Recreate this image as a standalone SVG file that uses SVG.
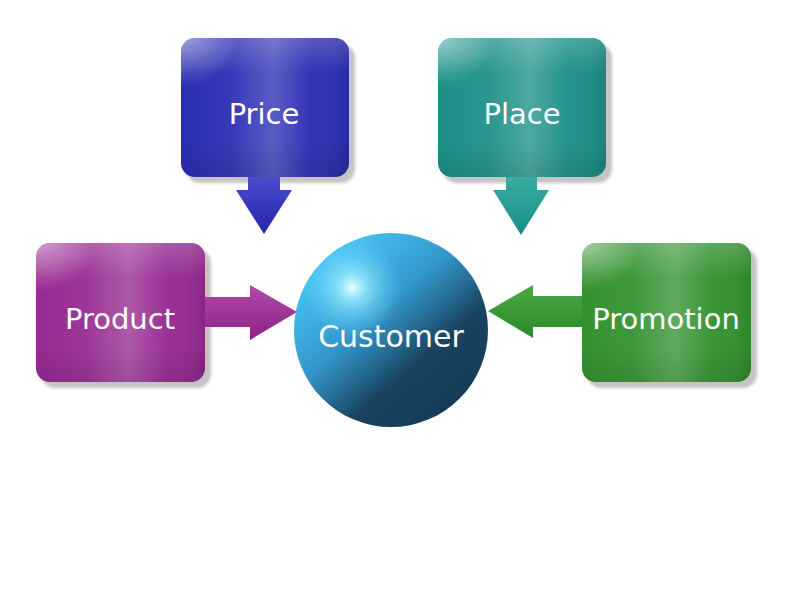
<svg xmlns="http://www.w3.org/2000/svg" width="792" height="615" viewBox="0 0 792 615">
<style>
.lbl{font-family:"DejaVu Sans","Liberation Sans",sans-serif;font-size:29px;fill:#ffffff;text-anchor:middle}
.shadow{fill:#c4c4c4;filter:url(#blur)}
</style>
<defs>
<filter id="blur" x="-10%" y="-10%" width="120%" height="120%"><feGaussianBlur stdDeviation="1.5"/></filter>
<linearGradient id="band" x1="0" y1="0" x2="1" y2="0">
<stop offset="0" stop-color="#fff" stop-opacity="0"/>
<stop offset="0.3" stop-color="#fff" stop-opacity="0.06"/>
<stop offset="0.55" stop-color="#fff" stop-opacity="0.22"/>
<stop offset="0.78" stop-color="#fff" stop-opacity="0.03"/>
<stop offset="1" stop-color="#000" stop-opacity="0.1"/>
</linearGradient>
<linearGradient id="topv" x1="0" y1="0" x2="0" y2="1">
<stop offset="0" stop-color="#fff" stop-opacity="0.18"/>
<stop offset="0.25" stop-color="#fff" stop-opacity="0"/>
<stop offset="0.75" stop-color="#000" stop-opacity="0"/>
<stop offset="1" stop-color="#000" stop-opacity="0.1"/>
</linearGradient>
<radialGradient id="corner" cx="0" cy="0" r="0.35">
<stop offset="0" stop-color="#fff" stop-opacity="0.45"/>
<stop offset="1" stop-color="#fff" stop-opacity="0"/>
</radialGradient>
<linearGradient id="sphere" x1="0.2" y1="0.15" x2="0.85" y2="0.9">
<stop offset="0" stop-color="#45bff0"/>
<stop offset="0.35" stop-color="#3398cc"/>
<stop offset="0.55" stop-color="#24688f"/>
<stop offset="0.68" stop-color="#174460"/>
<stop offset="1" stop-color="#153b56"/>
</linearGradient>
<radialGradient id="hl" cx="0.3" cy="0.28" r="0.26">
<stop offset="0" stop-color="#e8fdff" stop-opacity="1"/>
<stop offset="0.3" stop-color="#9ff0ff" stop-opacity="0.7"/>
<stop offset="1" stop-color="#60d0ff" stop-opacity="0"/>
</radialGradient>
<linearGradient id="gBlueA" x1="0" y1="0" x2="0" y2="1"><stop offset="0" stop-color="#4a4ccc"/><stop offset="1" stop-color="#2525ae"/></linearGradient>
<linearGradient id="gTealA" x1="0" y1="0" x2="0" y2="1"><stop offset="0" stop-color="#3aaca2"/><stop offset="1" stop-color="#178f86"/></linearGradient>
<linearGradient id="gMagA" x1="0" y1="0" x2="0" y2="1"><stop offset="0" stop-color="#b04aa8"/><stop offset="1" stop-color="#8c2386"/></linearGradient>
<linearGradient id="gGrnA" x1="0" y1="0" x2="0" y2="1"><stop offset="0" stop-color="#4aa845"/><stop offset="1" stop-color="#2b8a28"/></linearGradient>
</defs>

<g id="price">
<rect class="shadow" x="186" y="44" width="169" height="139" rx="14"/>
<rect x="181" y="38" width="168" height="139" rx="14" fill="#2b2db3"/>
<rect x="181" y="38" width="168" height="139" rx="14" fill="url(#band)"/>
<rect x="181" y="38" width="168" height="139" rx="14" fill="url(#topv)"/>
<rect x="181" y="38" width="168" height="139" rx="14" fill="url(#corner)"/>
<text class="lbl" x="264" y="124">Price</text>
</g>

<g id="place">
<rect class="shadow" x="443" y="44" width="169" height="139" rx="14"/>
<rect x="438" y="38" width="168" height="139" rx="14" fill="#1c9088"/>
<rect x="438" y="38" width="168" height="139" rx="14" fill="url(#band)"/>
<rect x="438" y="38" width="168" height="139" rx="14" fill="url(#topv)"/>
<rect x="438" y="38" width="168" height="139" rx="14" fill="url(#corner)"/>
<text class="lbl" x="522" y="124">Place</text>
</g>

<g id="product">
<rect class="shadow" x="41" y="249" width="170" height="139" rx="14"/>
<rect x="36" y="243" width="169" height="139" rx="14" fill="#972a92"/>
<rect x="36" y="243" width="169" height="139" rx="14" fill="url(#band)"/>
<rect x="36" y="243" width="169" height="139" rx="14" fill="url(#topv)"/>
<rect x="36" y="243" width="169" height="139" rx="14" fill="url(#corner)"/>
<text class="lbl" x="120" y="329">Product</text>
</g>

<g id="promotion">
<rect class="shadow" x="587" y="249" width="170" height="139" rx="14"/>
<rect x="582" y="243" width="169" height="139" rx="14" fill="#33922f"/>
<rect x="582" y="243" width="169" height="139" rx="14" fill="url(#band)"/>
<rect x="582" y="243" width="169" height="139" rx="14" fill="url(#topv)"/>
<rect x="582" y="243" width="169" height="139" rx="14" fill="url(#corner)"/>
<text class="lbl" x="666" y="329">Promotion</text>
</g>

<g id="connectors">
<polygon fill="url(#gBlueA)" points="248,177 280,177 280,190 292,190 264,234 236,190 248,190"/>
<polygon fill="url(#gTealA)" points="506,177 537,177 537,190 549,190 521,235 493,190 506,190"/>
<polygon fill="url(#gMagA)" points="205,297 250,297 250,285 297,312 250,340 250,327 205,327"/>
<polygon fill="url(#gGrnA)" points="582,296 533,296 533,285 488,311 533,338 533,327 582,327"/>
</g>

<g id="customer">
<circle cx="391" cy="330" r="97" fill="url(#sphere)"/>
<circle cx="391" cy="330" r="97" fill="url(#hl)"/>
<text class="lbl" x="391" y="347" style="font-size:30px">Customer</text>
</g>
</svg>
